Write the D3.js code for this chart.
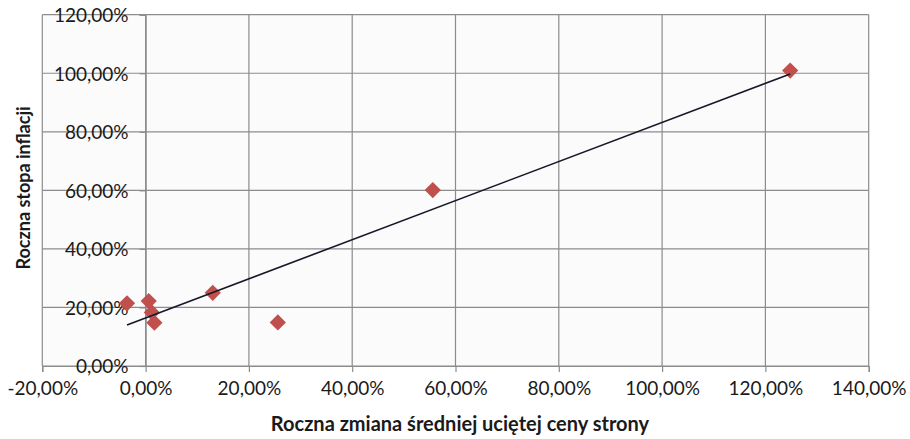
<!DOCTYPE html>
<html><head><meta charset="utf-8">
<script src="https://cdn.jsdelivr.net/npm/d3@7"></script>
<style>
body{margin:0;background:#fff;}
svg{display:block;}
text{font-family:Lato,"Open Sans",sans-serif;fill:#1a1a1a;}
</style></head>
<body>
<svg id="c" width="910" height="439"></svg>
<script>
const xValues = [-3.6, 0.6, 1.2, 1.7, 13.0, 25.6, 55.6, 124.8];
const yValues = [21.4, 22.2, 18.3, 14.8, 25.0, 14.9, 60.1, 100.9];
const xTicks = [-20, 0, 20, 40, 60, 80, 100, 120, 140];
const yTicks = [0, 20, 40, 60, 80, 100, 120];
const xTitle = "Roczna zmiana średniej uciętej ceny strony";
const yTitle = "Roczna stopa inflacji";

const fmt = v => d3.format(".2f")(v).replace(".", ",").replace("\u2212", "-") + "%";

const svg = d3.select("#c");
const L = 42.3, R = 868.7, T = 14.7, B = 366;
const x = d3.scaleLinear().domain([-20, 140]).range([L, R]);
const y = d3.scaleLinear().domain([0, 120]).range([B, T]);

svg.append("rect").attr("x", L).attr("y", T).attr("width", R - L).attr("height", B - T).attr("fill", "#fbfbfb");

const grid = svg.append("g").attr("stroke", "#8c8c8c").attr("stroke-width", 1.2);
grid.selectAll(".vx").data(xTicks).join("line")
  .attr("x1", d => x(d)).attr("x2", d => x(d)).attr("y1", T).attr("y2", B);
grid.selectAll(".hy").data(yTicks).join("line")
  .attr("x1", L).attr("x2", R).attr("y1", d => y(d)).attr("y2", d => y(d));

const xAxis = d3.axisBottom(x).tickValues(xTicks).tickFormat(fmt).tickSize(6).tickPadding(10);
const gx = svg.append("g").attr("transform", `translate(0,${y(0)})`).call(xAxis);
gx.select(".domain").attr("stroke", "#8c8c8c").attr("stroke-width", 1.2);
gx.selectAll(".tick line").attr("stroke", "#8c8c8c").attr("stroke-width", 1.2);
gx.selectAll("text").attr("font-size", 19).attr("fill", "#1a1a1a").style("font-family", "Lato");

const yAxis = d3.axisLeft(y).tickValues(yTicks).tickFormat(fmt).tickSize(6).tickPadding(11);
const gy = svg.append("g").attr("transform", `translate(${x(0)},0)`).call(yAxis);
gy.select(".domain").attr("stroke", "#8c8c8c").attr("stroke-width", 1.2);
gy.selectAll(".tick line").attr("stroke", "#8c8c8c").attr("stroke-width", 1.2);
gy.selectAll("text").attr("font-size", 19).attr("fill", "#1a1a1a").attr("dy", "0.36em").style("font-family", "Lato");

// linear trendline (least squares)
const n = xValues.length;
const mx = d3.mean(xValues), my = d3.mean(yValues);
let sxy = 0, sxx = 0;
for (let i = 0; i < n; i++) { sxy += (xValues[i]-mx)*(yValues[i]-my); sxx += (xValues[i]-mx)**2; }
const slope = sxy / sxx, icpt = my - slope * mx;
const x0 = d3.min(xValues), x1 = d3.max(xValues);

const sym = d3.symbol().type(d3.symbolSquare).size(132);
svg.append("g").selectAll("path").data(xValues.map((v, i) => [v, yValues[i]])).join("path")
  .attr("d", sym)
  .attr("transform", d => `translate(${x(d[0])},${y(d[1])}) rotate(45)`)
  .attr("fill", "#c0504d");

svg.append("line")
  .attr("x1", x(x0)).attr("y1", y(slope * x0 + icpt))
  .attr("x2", x(x1)).attr("y2", y(slope * x1 + icpt))
  .attr("stroke", "#141828").attr("stroke-width", 1.6);

svg.append("text").attr("x", 460).attr("y", 431).attr("text-anchor", "middle")
  .attr("font-size", 20).attr("font-weight", "bold").text(xTitle);
svg.append("text").attr("transform", "translate(30,188) rotate(-90)").attr("text-anchor", "middle")
  .attr("font-size", 18).attr("font-weight", "bold").text(yTitle);
</script>
</body></html>
